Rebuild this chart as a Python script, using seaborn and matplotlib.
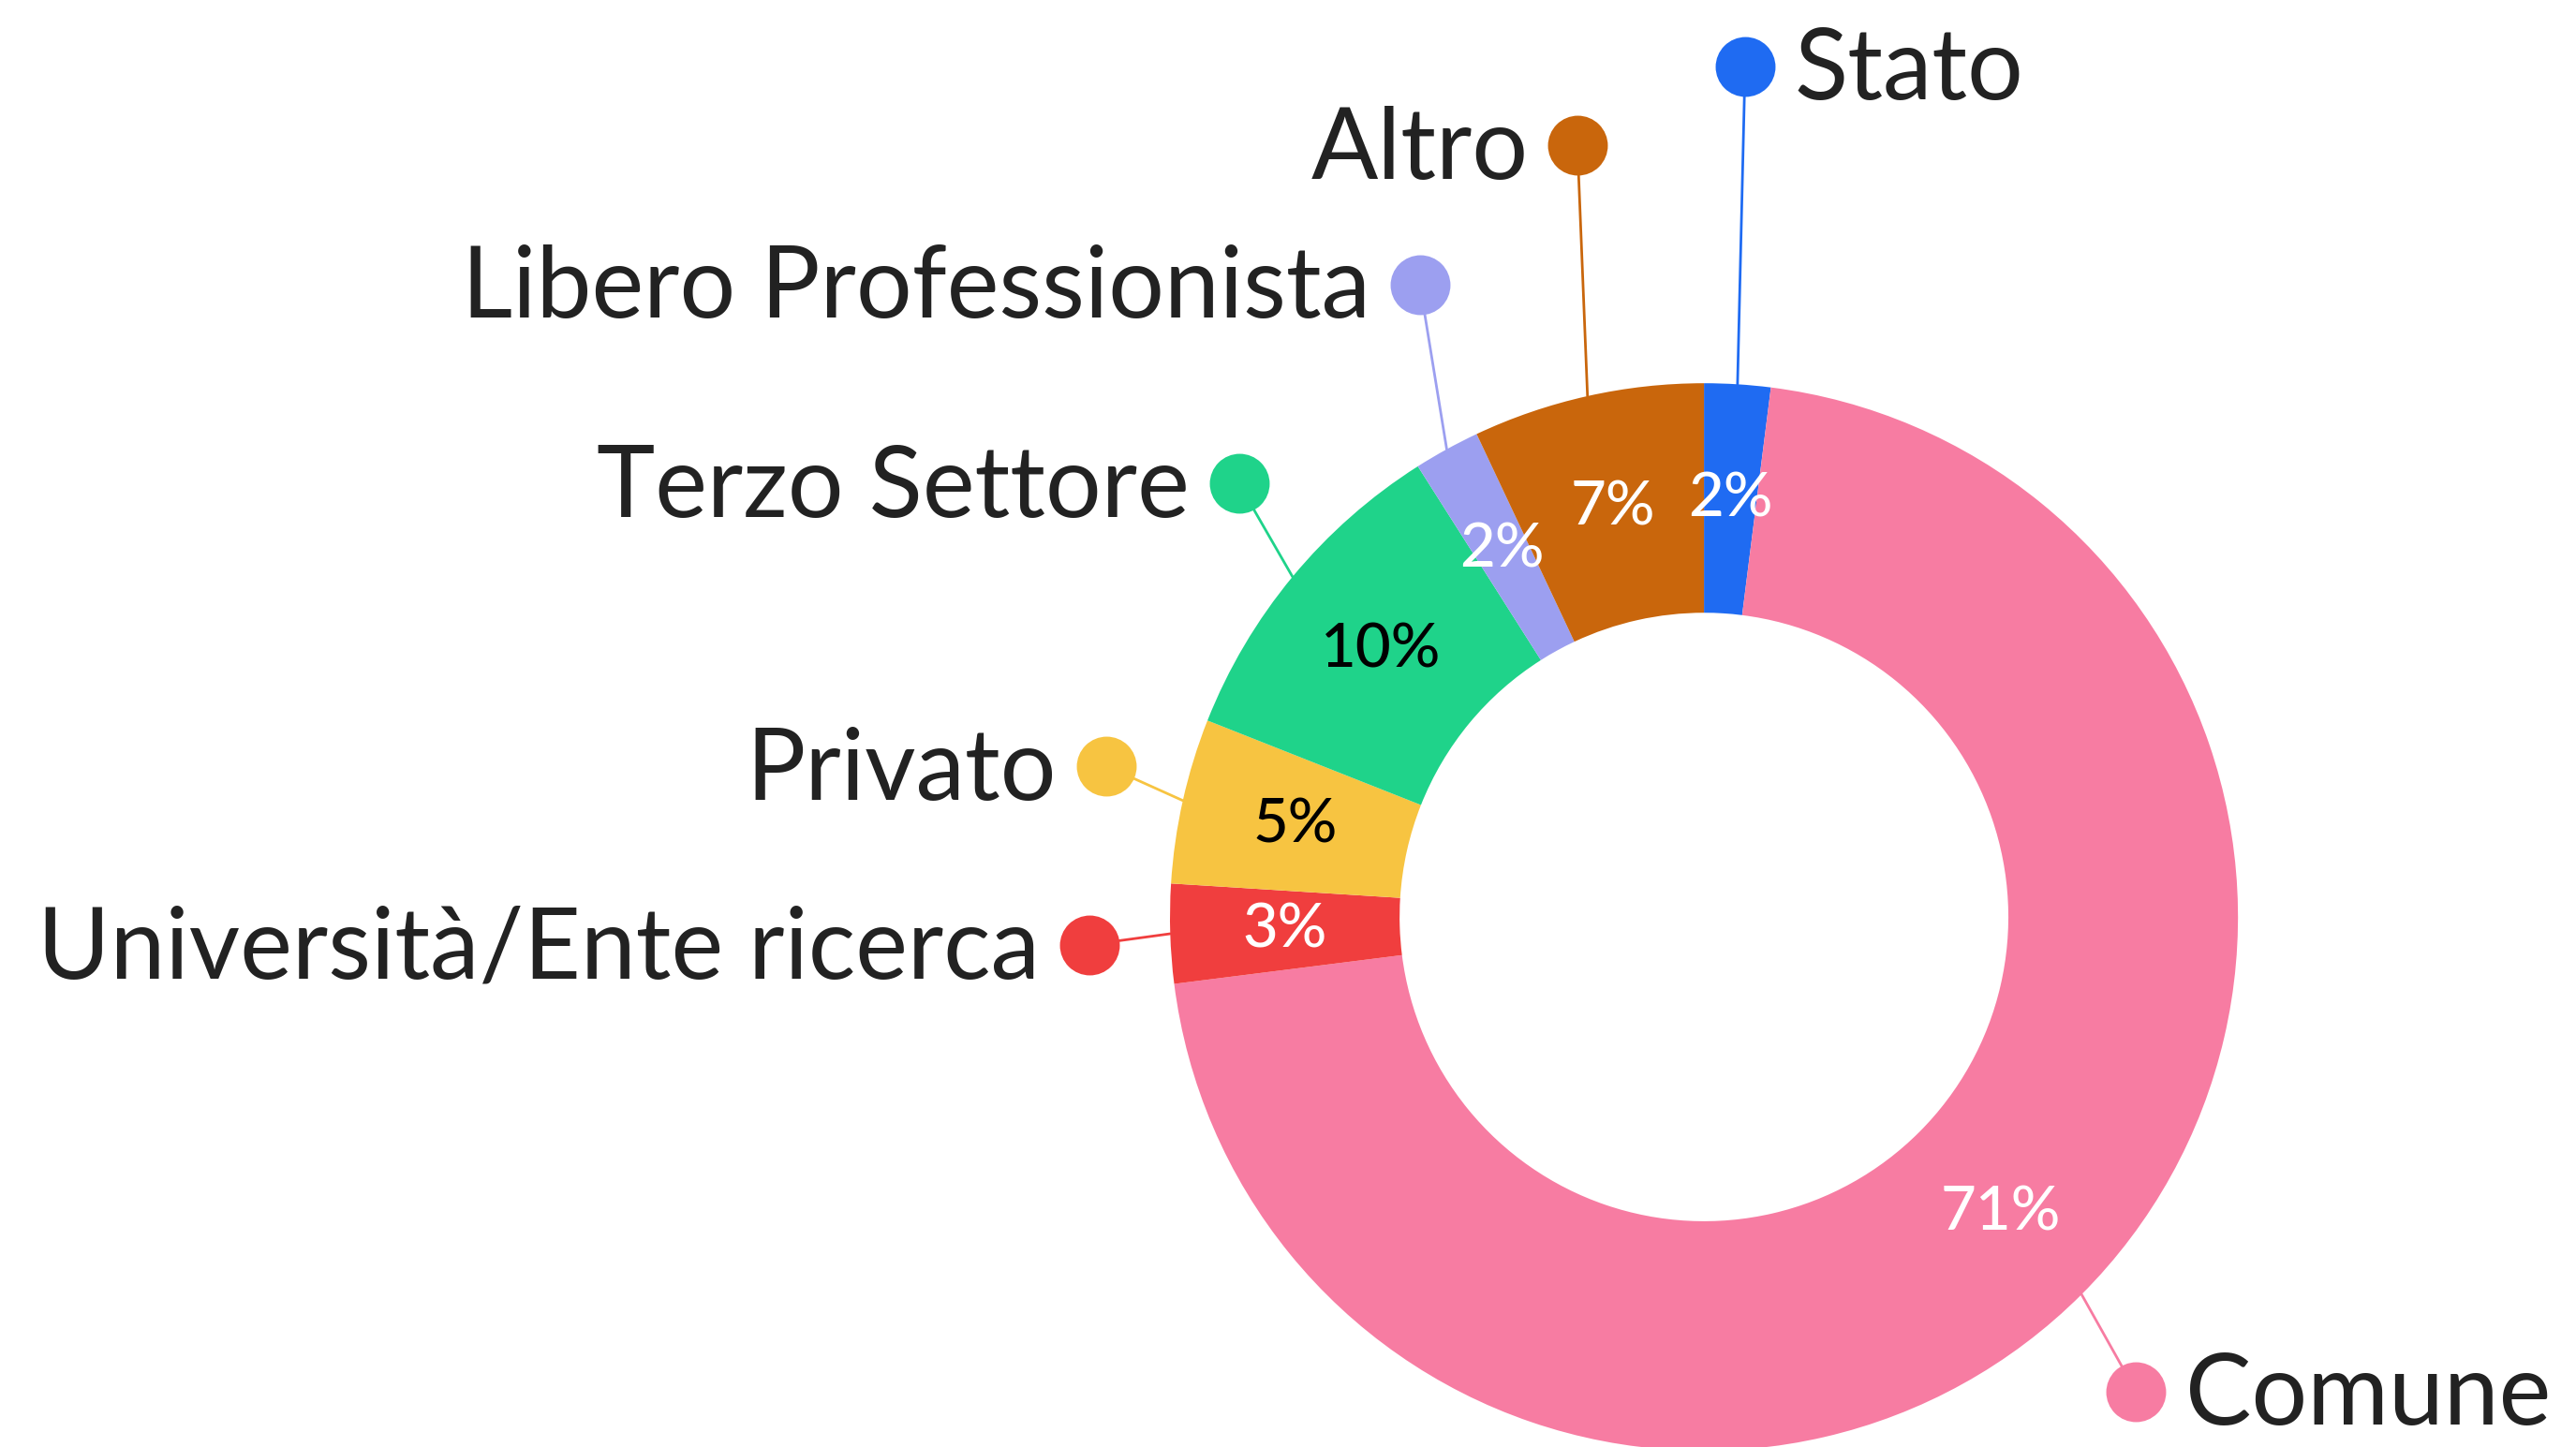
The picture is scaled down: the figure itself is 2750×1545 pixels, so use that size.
import numpy as np
import matplotlib.pyplot as plt
import seaborn as sns

categories = ['Stato', 'Comune', 'Università/Ente ricerca', 'Privato',
              'Terzo Settore', 'Libero Professionista', 'Altro']
shares = [2, 71, 3, 5, 10, 2, 7]

colors = ['#1f6bf2', '#f77ca2', '#f03e3e', '#f7c441', '#1fd38a', '#9c9ff0', '#c9660c']
pct_colors = ['white', 'white', 'white', 'black', 'black', 'white', 'white']

# label dot positions (pie radius = 1) and the side the name goes on
dot_pos = [(0.077, 1.594), (0.809, -0.889), (-1.151, -0.052), (-1.12, 0.283),
           (-0.871, 0.812), (-0.532, 1.185), (-0.237, 1.446)]
text_side = ['right', 'right', 'left', 'left', 'left', 'left', 'left']

sns.set_theme(style='white')
plt.rcParams['font.family'] = ['Lato', 'DejaVu Sans']

fig = plt.figure(figsize=(27.5, 15.45), dpi=100)
ax = fig.add_axes([0, 0, 1, 1])

wedges, _, autotexts = ax.pie(
    shares, colors=colors, startangle=90, counterclock=False, radius=1,
    wedgeprops=dict(width=0.43, linewidth=0),
    autopct=lambda p: f'{p:.0f}%', pctdistance=0.785,
    textprops=dict(fontsize=47, fontweight='medium'))
for t, c in zip(autotexts, pct_colors):
    t.set_color(c)

for w, name, c, (dx, dy), side in zip(wedges, categories, colors, dot_pos, text_side):
    ang = np.deg2rad((w.theta1 + w.theta2) / 2)
    x0, y0 = np.cos(ang), np.sin(ang)
    ax.plot([x0, dx], [y0, dy], color=c, lw=2, zorder=0.5)
    ax.plot(dx, dy, 'o', ms=46, color=c, mec='none', zorder=3)
    off = 0.092 if side == 'right' else -0.092
    ax.text(dx + off, dy - 0.01, name, ha='left' if side == 'right' else 'right',
            va='center', fontsize=76, color='#222222')

ax.set_xlim(-3.191, 1.633)
ax.set_ylim(-0.993, 1.718)
ax.set_aspect('auto')
ax.axis('off')
fig.savefig('out.png', dpi=100)
